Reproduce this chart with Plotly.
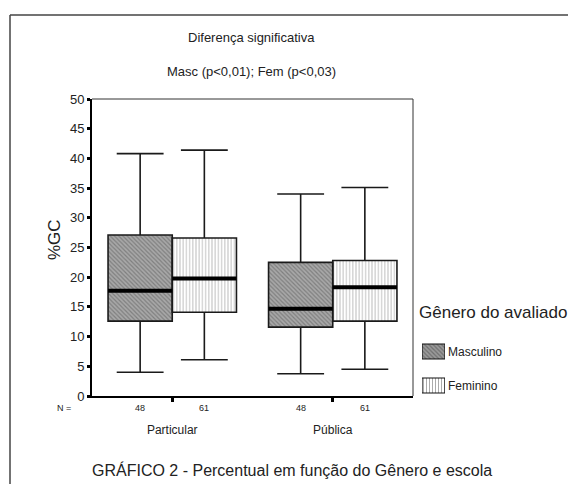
import plotly.graph_objects as go

# ---- data ----
schools = ["Particular", "Pública"]
school_pos = [0, 1]
genders = ["Masculino", "Feminino"]
gender_pos = [0, 1]
n_masc = [48, 48]
n_fem = [61, 61]
masc_low = [4.0, 3.75]
masc_q1 = [12.6, 11.6]
masc_med = [17.7, 14.7]
masc_q3 = [27.1, 22.5]
masc_high = [40.8, 34.0]
fem_low = [6.1, 4.5]
fem_q1 = [14.1, 12.6]
fem_med = [19.8, 18.3]
fem_q3 = [26.6, 22.8]
fem_high = [41.4, 35.1]
y_ticks = list(range(0, 55, 5))

# ---- layout constants (page pixels; the page body has an 8px margin) ----
OFF = 8
W, H = 568, 476
PL, PR, PT, PB = 92, 413, 99, 396          # plot area in page pixels
PX1 = 568                                   # right edge of paper area (page px)
L, T = PL - OFF, PT - OFF
PPW, PH = PX1 - PL, PB - PT
R, B = W - L - PPW, H - T - PH
BOX_W = 0.4
FONT = "Liberation Sans, Arial, sans-serif"

MASC_PAT = dict(shape="\\", fgcolor="#555555", bgcolor="#a8a8a8", size=3, solidity=0.4)
FEM_PAT = dict(shape="|", fgcolor="#7a7a7a", bgcolor="#ffffff", size=3.2, solidity=0.3)

# legend swatch geometry (page px)
SW_X0, SW_X1 = 422, 445
SW_Y0, SW_Y1 = 342, 396
SW_C0, SW_STEP, SW_H = 351.5, 34, 15


def px_x(p):
    return (p - PL) / PPW


def px_y(p):
    return (PB - p) / PH


fig = go.Figure()

series = [
    dict(name=genders[0], low=masc_low, q1=masc_q1, med=masc_med, q3=masc_q3, high=masc_high,
         n=n_masc, color="#9a9a9a", pat=MASC_PAT, off=-BOX_W / 2),
    dict(name=genders[1], low=fem_low, q1=fem_q1, med=fem_med, q3=fem_q3, high=fem_high,
         n=n_fem, color="#ffffff", pat=FEM_PAT, off=BOX_W / 2),
]

# patterned box bodies (bars)
for s in series:
    fig.add_trace(go.Bar(
        x=school_pos, base=s["q1"], y=[b - a for a, b in zip(s["q1"], s["q3"])],
        name=s["name"], showlegend=False,
        marker=dict(color=s["color"], pattern=s["pat"], line=dict(width=0)),
        hoverinfo="skip",
    ))

# box outlines and whiskers
for s in series:
    fig.add_trace(go.Box(
        x=school_pos, q1=s["q1"], median=s["med"], q3=s["q3"],
        lowerfence=s["low"], upperfence=s["high"],
        name=s["name"], showlegend=False, boxpoints=False,
        fillcolor="rgba(0,0,0,0)", line=dict(color="#1a1a1a", width=1.6),
        whiskerwidth=0.73,
    ))

# thick medians
for s in series:
    xs, ys = [], []
    for p, m in zip(school_pos, s["med"]):
        c = p + s["off"]
        xs += [c - BOX_W / 2, c + BOX_W / 2, None]
        ys += [m, m, None]
    fig.add_trace(go.Scatter(x=xs, y=ys, mode="lines", line=dict(color="black", width=4),
                             showlegend=False, hoverinfo="skip"))

# legend swatches (own small axes)
fig.add_trace(go.Bar(
    y=gender_pos, x=[1, 1], orientation="h", xaxis="x2", yaxis="y2", width=SW_H / SW_STEP,
    marker=dict(color=[s["color"] for s in series],
                pattern=dict(shape=[MASC_PAT["shape"], FEM_PAT["shape"]],
                             fgcolor=[MASC_PAT["fgcolor"], FEM_PAT["fgcolor"]],
                             bgcolor=[MASC_PAT["bgcolor"], FEM_PAT["bgcolor"]],
                             size=3, solidity=[0.4, 0.3]),
                line=dict(color="#111111", width=1.2)),
    showlegend=False, hoverinfo="skip",
))


def ann(text, x, y, size, xanchor="center", **kw):
    d = dict(text=text, x=px_x(x), y=px_y(y), xref="paper", yref="paper", showarrow=False,
             xanchor=xanchor, yanchor="middle", font=dict(size=size, color="#222", family=FONT))
    d.update(kw)
    return d


annotations = [ann("N =", 64, 408, 9)]
for s in series:
    for p, n in zip(school_pos, s["n"]):
        annotations.append(dict(text=str(n), x=p + s["off"], y=px_y(408), xref="x", yref="paper",
                                xanchor="center", yanchor="middle", showarrow=False,
                                font=dict(size=9, color="#222", family=FONT)))

annotations += [
    ann("Diferença significativa", 251.5, 38, 13),
    ann("Masc (p<0,01); Fem (p<0,03)", 251.5, 71, 13),
    ann("%GC", 55, 240, 17, textangle=-90),
    ann("Gênero do avaliado", 417, 312, 17, xanchor="left"),
    ann(genders[0], 446, 352, 12, xanchor="left"),
    ann(genders[1], 446, 386, 12, xanchor="left"),
    ann("GRÁFICO 2 - Percentual em função do Gênero e escola", 292, 470, 16),
]

shapes = [
    dict(type="line", xref="x domain", yref="y domain", x0=0, x1=1, y0=1, y1=1, line=dict(color="#333", width=1)),
    dict(type="line", xref="x domain", yref="y domain", x0=1, x1=1, y0=0, y1=1, line=dict(color="#333", width=1)),
    dict(type="line", xref="paper", yref="paper", x0=px_x(10), x1=px_x(10), y0=px_y(15), y1=px_y(500),
         line=dict(color="#444", width=1.5)),
    dict(type="line", xref="paper", yref="paper", x0=px_x(10), x1=px_x(600), y0=px_y(15), y1=px_y(15),
         line=dict(color="#444", width=1.5)),
]

y2_top = -(SW_C0 - SW_Y0) / SW_STEP
y2_bot = 1 + (SW_Y1 - (SW_C0 + SW_STEP)) / SW_STEP

fig.update_layout(
    width=W, height=H,
    margin=dict(l=L, r=R, t=T, b=B, autoexpand=False),
    paper_bgcolor="white", plot_bgcolor="white",
    font=dict(family=FONT, color="#222", size=12),
    barmode="group", bargap=0.2, bargroupgap=0,
    boxmode="group", boxgap=0.2, boxgroupgap=0,
    showlegend=False,
    annotations=annotations, shapes=shapes,
    xaxis=dict(domain=[0, px_x(PR)], range=[-0.5, 1.5], tickvals=school_pos, ticktext=schools,
               showgrid=False, zeroline=False, showline=True, linecolor="black", linewidth=2,
               ticks="outside", ticklen=4, tickwidth=3, tickcolor="black",
               ticklabelstandoff=18, tickfont=dict(size=12, family=FONT, color="#222")),
    yaxis=dict(range=[0, 50], tickvals=y_ticks, showgrid=False, zeroline=False,
               showline=True, linecolor="black", linewidth=2,
               ticks="outside", ticklen=3, tickwidth=3, tickcolor="black",
               tickfont=dict(size=13, family=FONT, color="#222")),
    xaxis2=dict(domain=[px_x(SW_X0), px_x(SW_X1)], range=[0, 1], anchor="y2", visible=False, fixedrange=True),
    yaxis2=dict(domain=[px_y(SW_Y1), px_y(SW_Y0)], anchor="x2", visible=False, fixedrange=True,
                range=[y2_bot, y2_top]),
)

fig.write_html("out.html")
